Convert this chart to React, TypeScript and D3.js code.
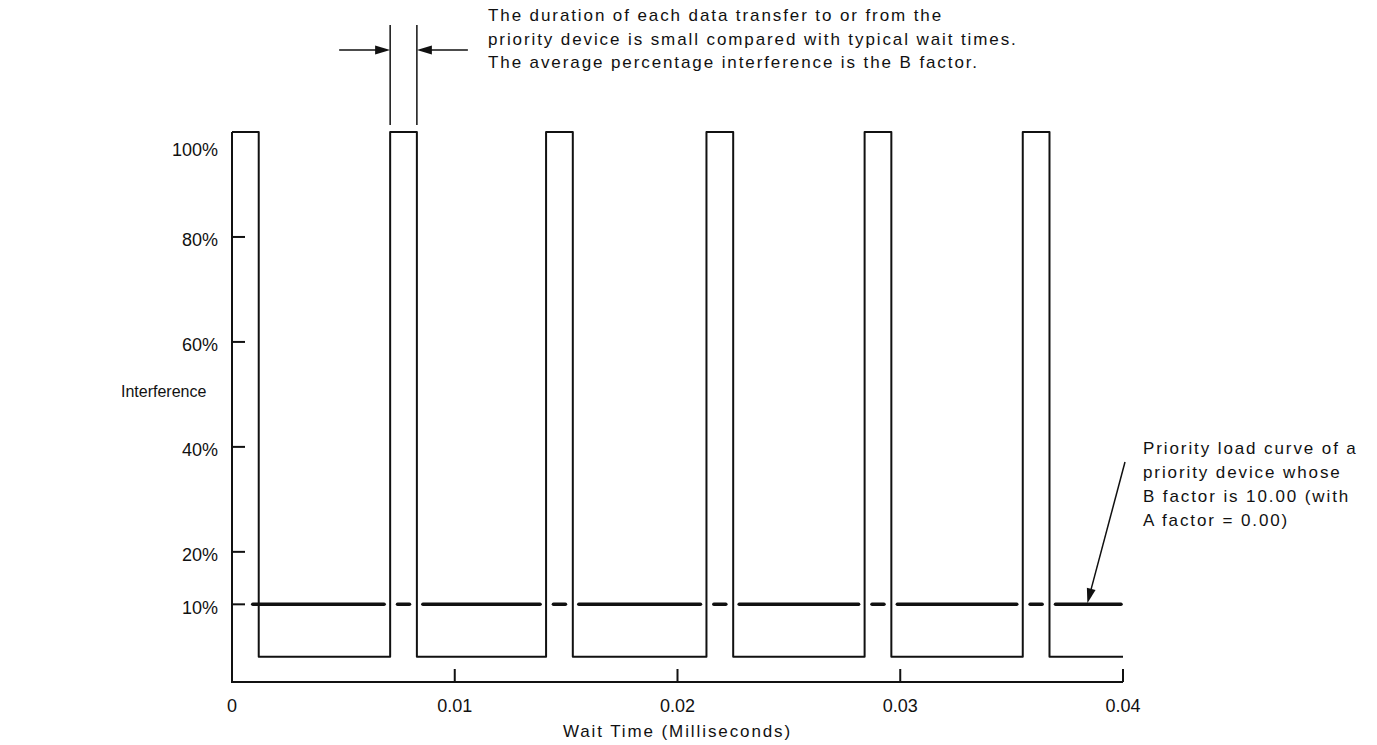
import React, { useEffect, useRef } from 'react';
import * as d3 from 'd3';

// Pulse train of the priority device (wait time in ms)
const pulseStarts = [0, 0.0071, 0.0141, 0.0213, 0.0284, 0.0355];
const pulseEnds = [0.0012, 0.0083, 0.0153, 0.0225, 0.0296, 0.0367];
const pulseHigh = 100;
const pulseLow = 0;
const bFactor = 10;

const xTickValues = [0, 0.01, 0.02, 0.03, 0.04];
const xTickLabels = ['0', '0.01', '0.02', '0.03', '0.04'];
const yTickValues = [10, 20, 40, 60, 80, 100];
const yTickLabels = ['10%', '20%', '40%', '60%', '80%', '100%'];

const topNote = [
  'The duration of each data transfer to or from the',
  'priority device is small compared with typical wait times.',
  'The average percentage interference is the B factor.',
];
const sideNote = [
  'Priority load curve of a',
  'priority device whose',
  'B factor is 10.00 (with',
  'A factor = 0.00)',
];
const arrowTarget = 0.0384;

const W = 1377;
const H = 745;
const FONT = '"Liberation Sans", Arial, Helvetica, sans-serif';
const INK = '#111';

const App: React.FC = () => {
  const ref = useRef<SVGSVGElement>(null);

  useEffect(() => {
    document.body.style.margin = '0';
    if (!ref.current) return;
    const svg = d3.select(ref.current);
    svg.selectAll('*').remove();

    const x = d3.scaleLinear().domain([0, 0.04]).range([232, 1123]);
    const y = d3.scaleLinear().domain([-4.8, 100]).range([682, 132]);
    const base = y(-4.8);

    // axes frame
    svg.append('line')
      .attr('x1', x(0)).attr('x2', x(0))
      .attr('y1', base).attr('y2', y(pulseHigh))
      .attr('stroke', INK).attr('stroke-width', 2);
    svg.append('line')
      .attr('x1', x(0) - 1).attr('x2', x(0.04))
      .attr('y1', base).attr('y2', base)
      .attr('stroke', INK).attr('stroke-width', 2);

    // x ticks point upward
    xTickValues.slice(1).forEach((v) => {
      svg.append('line')
        .attr('x1', x(v)).attr('x2', x(v))
        .attr('y1', base).attr('y2', base - 13)
        .attr('stroke', INK).attr('stroke-width', 2);
    });
    xTickValues.forEach((v, i) => {
      svg.append('text')
        .attr('x', x(v)).attr('y', base + 30)
        .attr('text-anchor', 'middle')
        .style('font-family', FONT).style('font-size', '18px').attr('fill', INK)
        .text(xTickLabels[i]);
    });

    // y ticks point right
    yTickValues.forEach((v, i) => {
      if (v !== 100) {
        svg.append('line')
          .attr('x1', x(0)).attr('x2', x(0) + 13)
          .attr('y1', y(v)).attr('y2', y(v))
          .attr('stroke', INK).attr('stroke-width', 2);
      }
      // 100% label sits a little below the pulse tops
      const ly = v === 100 ? y(v) + 18 : y(v) + 3;
      svg.append('text')
        .attr('x', 218).attr('y', ly)
        .attr('dy', '0.35em')
        .attr('text-anchor', 'end')
        .style('font-family', FONT).style('font-size', '18px').attr('fill', INK)
        .text(yTickLabels[i]);
    });

    // square wave
    const pts: [number, number][] = [];
    pulseStarts.forEach((s, i) => {
      if (i > 0) pts.push([s, pulseLow]);
      pts.push([s, pulseHigh]);
      pts.push([pulseEnds[i], pulseHigh]);
      pts.push([pulseEnds[i], pulseLow]);
    });
    pts.push([0.04, pulseLow]);
    const wave = d3.line<[number, number]>()
      .x((d) => x(d[0]))
      .y((d) => y(d[1]));
    svg.append('path')
      .attr('d', wave(pts)!)
      .attr('fill', 'none')
      .attr('stroke', INK)
      .attr('stroke-width', 2)
      .attr('stroke-linejoin', 'round');

    // average (B factor) line: long dashes between pulses, short ones inside
    const by = y(bFactor);
    const gap = 6;
    const dashes: [number, number][] = [];
    pulseStarts.forEach((s, i) => {
      const from = i === 0 ? x(pulseEnds[0]) - gap : x(pulseEnds[i]) + gap;
      const to = i < pulseStarts.length - 1 ? x(pulseStarts[i + 1]) - gap : x(0.04) - 2;
      dashes.push([from, to]);
      if (i > 0) {
        const c = (x(s) + x(pulseEnds[i])) / 2;
        dashes.push([c - 6, c + 6]);
      }
    });
    dashes.forEach(([a, b]) => {
      svg.append('line')
        .attr('x1', a).attr('x2', b)
        .attr('y1', by).attr('y2', by)
        .attr('stroke', INK).attr('stroke-width', 3.5)
        .attr('stroke-linecap', 'round');
    });

    const arrowHead = (tx: number, ty: number, angle: number) => {
      const len = 15;
      const half = 4.5;
      const ca = Math.cos(angle);
      const sa = Math.sin(angle);
      const bx = tx - len * ca;
      const byy = ty - len * sa;
      svg.append('path')
        .attr('d', `M${tx},${ty}L${bx - half * sa},${byy + half * ca}L${bx + half * sa},${byy - half * ca}Z`)
        .attr('fill', INK);
    };

    // duration markers over the second pulse
    const l = x(pulseStarts[1]);
    const r = x(pulseEnds[1]);
    [l, r].forEach((px) => {
      svg.append('line')
        .attr('x1', px).attr('x2', px)
        .attr('y1', 25).attr('y2', 125)
        .attr('stroke', INK).attr('stroke-width', 1.5);
    });
    svg.append('line').attr('x1', l - 51).attr('x2', l - 10).attr('y1', 50).attr('y2', 50)
      .attr('stroke', INK).attr('stroke-width', 1.5);
    arrowHead(l, 50, 0);
    svg.append('line').attr('x1', r + 51).attr('x2', r + 10).attr('y1', 50).attr('y2', 50)
      .attr('stroke', INK).attr('stroke-width', 1.5);
    arrowHead(r, 50, Math.PI);

    // the scanned lettering is widely spaced
    const note = (sel: d3.Selection<SVGTextElement, unknown, null, undefined>) =>
      sel.style('font-family', FONT).style('font-size', '17px')
        .style('letter-spacing', '1.9px').attr('fill', INK);

    topNote.forEach((t, i) => {
      svg.append('text')
        .attr('x', 488).attr('y', 21 + i * 23.5)
        .call(note)
        .text(t);
    });

    // side annotation with arrow onto the average line
    sideNote.forEach((t, i) => {
      svg.append('text')
        .attr('x', 1143).attr('y', 454 + i * 24)
        .call(note)
        .text(t);
    });
    const sx = 1125;
    const sy = 462;
    const tx = x(arrowTarget);
    const ty = by - 1;
    const ang = Math.atan2(ty - sy, tx - sx);
    svg.append('line')
      .attr('x1', sx).attr('y1', sy)
      .attr('x2', tx - 10 * Math.cos(ang)).attr('y2', ty - 10 * Math.sin(ang))
      .attr('stroke', INK).attr('stroke-width', 1.5);
    arrowHead(tx, ty, ang);

    // axis titles
    svg.append('text')
      .attr('x', 121).attr('y', 397)
      .style('font-family', FONT).style('font-size', '16px').attr('fill', INK)
      .text('Interference');
    svg.append('text')
      .attr('x', (x(0) + x(0.04)) / 2).attr('y', 737)
      .attr('text-anchor', 'middle')
      .call(note)
      .text('Wait Time (Milliseconds)');
  }, []);

  return <svg ref={ref} width={W} height={H} style={{ display: 'block', background: '#fff' }} />;
};

export default App;
